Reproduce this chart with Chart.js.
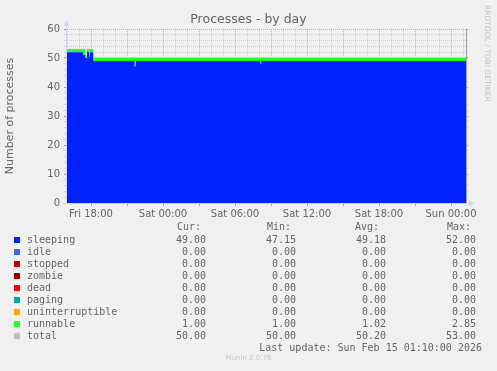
<!DOCTYPE html>
<html>
<head>
<meta charset="utf-8">
<script src="https://cdn.jsdelivr.net/npm/chart.js@4"></script>
<style>
  html, body { margin: 0; padding: 0; background: #f0f0f0; }
  body { width: 497px; height: 371px; position: relative; overflow: hidden; color: #666; font-family: "DejaVu Sans", sans-serif; }
  #c { position: absolute; left: 0; top: 0; }
  .t { position: absolute; white-space: pre; }
  #title { left: 0; width: 497px; top: 11px; text-align: center; font-size: 12.5px; }
  #credit { left: 483px; top: 5px; font-size: 7.5px; color: #c4c4c4; writing-mode: vertical-rl; }
  #legend { position: absolute; left: 0; top: 0; width: 497px; height: 371px; font-family: "DejaVu Sans Mono", monospace; font-size: 10px; }
  #legend .row { position: absolute; height: 12px; line-height: 12px; white-space: pre; }
  .sw { position: absolute; width: 6px; height: 6px; }
  #munin { left: 0; width: 497px; top: 354px; text-align: center; font-size: 7px; color: #c8c8c8; }
</style>
</head>
<body>
<canvas id="c" width="497" height="226"></canvas>
<div class="t" id="title">Processes - by day</div>
<div class="t" id="credit">RRDTOOL / TOBI OETIKER</div>
<div id="legend"></div>
<div class="t" id="munin">Munin 2.0.76</div>
<script>
// Time in hours relative to Fri 18:00, one point per change (value holds until the next point)
const hours    = [-2, -0.67, -0.5, -0.33, -0.17, -0.08, 0.17, 3.62, 3.75, 14.1, 14.2, 31.25];
const sleeping = [52, 51, 50, 52, 50.5, 52, 49, 47.15, 49, 48, 49, 49];
const idle     = [0, 0, 0, 0, 0, 0, 0, 0, 0, 0, 0, 0];
const stopped  = [0, 0, 0, 0, 0, 0, 0, 0, 0, 0, 0, 0];
const zombie   = [0, 0, 0, 0, 0, 0, 0, 0, 0, 0, 0, 0];
const dead     = [0, 0, 0, 0, 0, 0, 0, 0, 0, 0, 0, 0];
const paging   = [0, 0, 0, 0, 0, 0, 0, 0, 0, 0, 0, 0];
const uninterruptible = [0, 0, 0, 0, 0, 0, 0, 0, 0, 0, 0, 0];
const runnable = [1, 2, 1, 1, 2.5, 1, 1, 2.85, 1, 2, 1, 1];
const total    = [53, 53, 51, 53, 53, 53, 50, 50, 50, 50, 50, 50];

const xTickHours  = [0, 6, 12, 18, 24, 30];
const xTickLabels = ["Fri 18:00", "Sat 00:00", "Sat 06:00", "Sat 12:00", "Sat 18:00", "Sun 00:00"];

// Legend table: name, colour, cur, min, avg, max
const seriesNames  = ["sleeping", "idle", "stopped", "zombie", "dead", "paging", "uninterruptible", "runnable", "total"];
const seriesColors = ["#0022ff", "#4169e1", "#cc0000", "#990000", "#ff0000", "#00aaaa", "#ffa500", "#22ff22", "#c0c0c0"];
const curVals = ["49.00", "0.00", "0.00", "0.00", "0.00", "0.00", "0.00", "1.00", "50.00"];
const minVals = ["47.15", "0.00", "0.00", "0.00", "0.00", "0.00", "0.00", "1.00", "50.00"];
const avgVals = ["49.18", "0.00", "0.00", "0.00", "0.00", "0.00", "0.00", "1.02", "50.20"];
const maxVals = ["52.00", "0.00", "0.00", "0.00", "0.00", "0.00", "0.00", "2.85", "53.00"];

const MINOR = "rgba(140,140,140,0.32)";
const MAJOR = "rgba(220,100,100,0.5)";
const AXIS  = "#cfd6f8";

const pts = (vals) => hours.map((h, i) => ({ x: h, y: vals[i] }));

function area(label, vals, color, first) {
  return {
    label,
    data: pts(vals),
    stepped: true,
    backgroundColor: color,
    borderColor: color,
    borderWidth: 0,
    pointRadius: 0,
    fill: first ? "origin" : "-1",
    stack: "procs",
  };
}

const datasets = [
  area("sleeping", sleeping, seriesColors[0], true),
  area("idle", idle, seriesColors[1]),
  area("stopped", stopped, seriesColors[2]),
  area("zombie", zombie, seriesColors[3]),
  area("dead", dead, seriesColors[4]),
  area("paging", paging, seriesColors[5]),
  area("uninterruptible", uninterruptible, seriesColors[6]),
  area("runnable", runnable, seriesColors[7]),
  {
    label: "total",
    data: pts(total),
    stepped: true,
    borderColor: seriesColors[8],
    borderWidth: 1,
    pointRadius: 0,
    fill: false,
    stack: "total",
  },
];

// small arrow heads at the ends of the axes
const arrows = {
  id: "arrows",
  afterDraw(chart) {
    const { ctx, chartArea: a } = chart;
    ctx.save();
    ctx.fillStyle = AXIS;
    ctx.strokeStyle = AXIS;
    ctx.lineWidth = 1;
    ctx.beginPath();
    ctx.moveTo(a.left - 0.5, a.bottom); ctx.lineTo(a.left - 0.5, a.top - 4);
    ctx.moveTo(a.left - 4, a.bottom + 0.5); ctx.lineTo(a.right + 4, a.bottom + 0.5);
    ctx.stroke();
    ctx.beginPath();
    ctx.moveTo(a.left - 3.5, a.top - 3); ctx.lineTo(a.left + 2.5, a.top - 3); ctx.lineTo(a.left - 0.5, a.top - 9);
    ctx.closePath(); ctx.fill();
    ctx.beginPath();
    ctx.moveTo(a.right + 3, a.bottom - 2.5); ctx.lineTo(a.right + 3, a.bottom + 3.5); ctx.lineTo(a.right + 9, a.bottom + 0.5);
    ctx.closePath(); ctx.fill();
    ctx.restore();
  },
};

new Chart(document.getElementById("c"), {
  type: "line",
  data: { datasets },
  plugins: [arrows],
  options: {
    responsive: false,
    animation: false,
    events: [],
    layout: { padding: { left: 0, top: 29, right: 0, bottom: 0 } },
    plugins: { legend: { display: false }, tooltip: { enabled: false } },
    scales: {
      x: {
        type: "linear",
        min: -2,
        max: 31.25,
        z: 1,
        afterFit: (s) => { s.height = 23; },
        border: { display: false, dash: [1, 1] },
        grid: {
          color: (c) => (c.tick && c.tick.value % 3 === 0 ? MAJOR : MINOR),
          tickColor: (c) => (c.tick && c.tick.value % 3 === 0 ? "#e08080" : "rgba(0,0,0,0)"),
          tickLength: 3,
          tickBorderDash: [],
        },
        ticks: {
          stepSize: 1,
          autoSkip: false,
          maxRotation: 0,
          includeBounds: false,
          padding: 2,
          color: "#666",
          font: { family: "DejaVu Sans", size: 10 },
          callback: (v) => {
            const i = xTickHours.indexOf(v);
            return i >= 0 ? xTickLabels[i] : "";
          },
        },
      },
      y: {
        stacked: true,
        min: 0,
        max: 60,
        z: 1,
        afterFit: (s) => { s.width = 67; },
        border: { display: false, dash: [1, 1] },
        grid: {
          color: (c) => (c.tick && c.tick.value % 10 === 0 ? MAJOR : MINOR),
          tickColor: (c) => (c.tick && c.tick.value % 10 === 0 ? "#e08080" : "#d0d0d0"),
          tickLength: 3,
          tickBorderDash: [],
        },
        ticks: {
          stepSize: 2,
          autoSkip: false,
          padding: 4,
          color: "#666",
          font: { family: "DejaVu Sans", size: 10 },
          callback: (v) => (v % 10 === 0 ? v : ""),
        },
        title: {
          display: true,
          text: "Number of processes",
          color: "#666",
          font: { family: "DejaVu Sans", size: 11 },
          padding: { top: 4, bottom: 0 },
        },
      },
      y2: {
        position: "right",
        min: 0,
        max: 60,
        z: 1,
        afterFit: (s) => { s.width = 31; },
        border: { display: true, color: "#a0a0a0", width: 1 },
        grid: {
          drawOnChartArea: false,
          color: (c) => (c.tick && c.tick.value % 10 === 0 ? "#e08080" : "#d0d0d0"),
          tickLength: 2,
        },
        ticks: { stepSize: 2, autoSkip: false, display: false },
      },
    },
  },
});

// legend table below the chart
const leg = document.getElementById("legend");
function put(text, x, yc, opts = {}) {
  const d = document.createElement("div");
  d.className = "row";
  d.textContent = text;
  d.style.top = (yc - 6) + "px";
  if (opts.right) d.style.right = (497 - x) + "px";
  else d.style.left = x + "px";
  leg.appendChild(d);
}
put("Cur:", 177, 227);
put("Min:", 267, 227);
put("Avg:", 355, 227);
put("Max:", 447, 227);
seriesNames.forEach((name, i) => {
  const yc = 240 + i * 12;
  const sw = document.createElement("div");
  sw.className = "sw";
  sw.style.left = "14px";
  sw.style.top = (yc - 3) + "px";
  sw.style.background = seriesColors[i];
  leg.appendChild(sw);
  put(name, 27, yc);
  put(curVals[i], 206, yc, { right: true });
  put(minVals[i], 296, yc, { right: true });
  put(avgVals[i], 386, yc, { right: true });
  put(maxVals[i], 476, yc, { right: true });
});
put("Last update: Sun Feb 15 01:10:00 2026", 482, 348, { right: true });
</script>
</body>
</html>
